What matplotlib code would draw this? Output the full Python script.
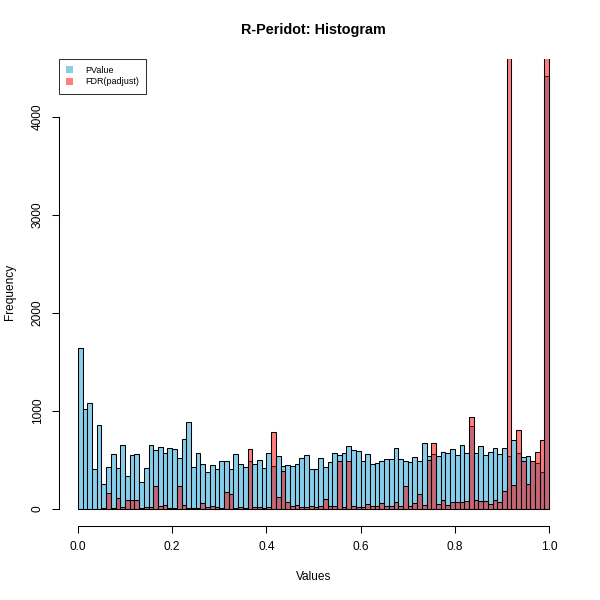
import numpy as np
import matplotlib
matplotlib.use("Agg")
import matplotlib.pyplot as plt
from matplotlib.patches import Patch

plt.rcParams['font.family'] = ['Liberation Sans', 'DejaVu Sans']

# conteos por intervalo de 0.01
pvalue = [1640, 1017, 1078, 408, 854, 252, 428, 561, 412, 653,
          337, 544, 561, 269, 412, 646, 595, 629, 568, 619,
          609, 517, 711, 884, 422, 568, 456, 378, 446, 405,
          483, 486, 405, 561, 456, 425, 483, 459, 500, 415,
          568, 439, 534, 432, 442, 435, 456, 514, 548, 408,
          408, 517, 422, 476, 568, 551, 568, 636, 595, 588,
          486, 554, 456, 466, 490, 503, 510, 619, 507, 490,
          476, 527, 483, 670, 534, 561, 534, 578, 568, 609,
          551, 646, 568, 840, 568, 639, 551, 578, 619, 561,
          616, 534, 700, 568, 527, 537, 486, 466, 371, 4418]

fdr = [0, 0, 0, 0, 0, 5, 160, 10, 109, 15,
       85, 85, 85, 10, 15, 15, 231, 27, 37, 10,
       7, 235, 37, 5, 5, 7, 58, 17, 24, 14,
       3, 167, 153, 7, 14, 10, 609, 17, 14, 7,
       17, 782, 119, 388, 65, 24, 37, 17, 17, 24,
       17, 24, 102, 24, 27, 490, 17, 483, 27, 20,
       14, 48, 24, 27, 54, 24, 31, 68, 24, 231,
       27, 58, 150, 41, 500, 673, 51, 92, 41, 68,
       68, 68, 82, 935, 92, 82, 75, 48, 92, 68,
       184, 6000, 245, 806, 490, 252, 486, 578, 704, 9000]

bordes = np.linspace(0, 1, len(pvalue) + 1)
ancho = bordes[1] - bordes[0]

fig = plt.figure(figsize=(6, 6), dpi=100)
ax = fig.add_axes([59 / 600, 74 / 600, 509 / 600, 467.5 / 600])

azul = '#87CEEB'
rojo = (1, 0, 0, 0.5)
ax.bar(bordes[:-1], pvalue, width=ancho, align='edge', color=azul,
       edgecolor='black', linewidth=0.75)
ax.bar(bordes[:-1], fdr, width=ancho, align='edge', color=rojo,
       edgecolor='black', linewidth=0.75)

ymax = max(pvalue)
ax.set_xlim(-0.04, 1.04)
ax.set_ylim(-0.04 * ymax, 1.04 * ymax)

# ejes estilo R
for s in ['top', 'right']:
    ax.spines[s].set_visible(False)
ax.spines['left'].set_bounds(0, 4000)
ax.spines['bottom'].set_bounds(0, 1)
ax.spines['left'].set_linewidth(0.75)
ax.spines['bottom'].set_linewidth(0.75)
ax.set_xticks([0, 0.2, 0.4, 0.6, 0.8, 1.0])
ax.set_xticklabels(['0.0', '0.2', '0.4', '0.6', '0.8', '1.0'])
ax.set_yticks([0, 1000, 2000, 3000, 4000])
ax.set_yticklabels(['0', '1000', '2000', '3000', '4000'], rotation=90, va='center')
ax.tick_params(axis='both', length=5, width=0.75, labelsize=8.6, pad=6)

fig.text(313.5 / 600, 1 - 30 / 600, 'R-Peridot: Histogram', ha='center',
         va='center', fontsize=10.4, fontweight='bold')
fig.text(313.5 / 600, 1 - 577 / 600, 'Values', ha='center', va='center', fontsize=8.6)
fig.text(10 / 600, 1 - 292 / 600, 'Frequency', ha='center', va='center',
         rotation=90, fontsize=8.6)

manijas = [Patch(facecolor=azul, edgecolor='none', label='PValue'),
           Patch(facecolor=rojo, edgecolor='none', label='FDR(padjust)')]
leg = ax.legend(handles=manijas, loc='upper left', bbox_to_anchor=(0, 1),
                borderaxespad=0, fontsize=6.5, fancybox=False, handlelength=0.8,
                handleheight=0.8, handletextpad=1.3, borderpad=0.8,
                labelspacing=0.3)
leg.get_frame().set_edgecolor('black')
leg.get_frame().set_linewidth(0.75)

fig.savefig('out.png', dpi=100)
